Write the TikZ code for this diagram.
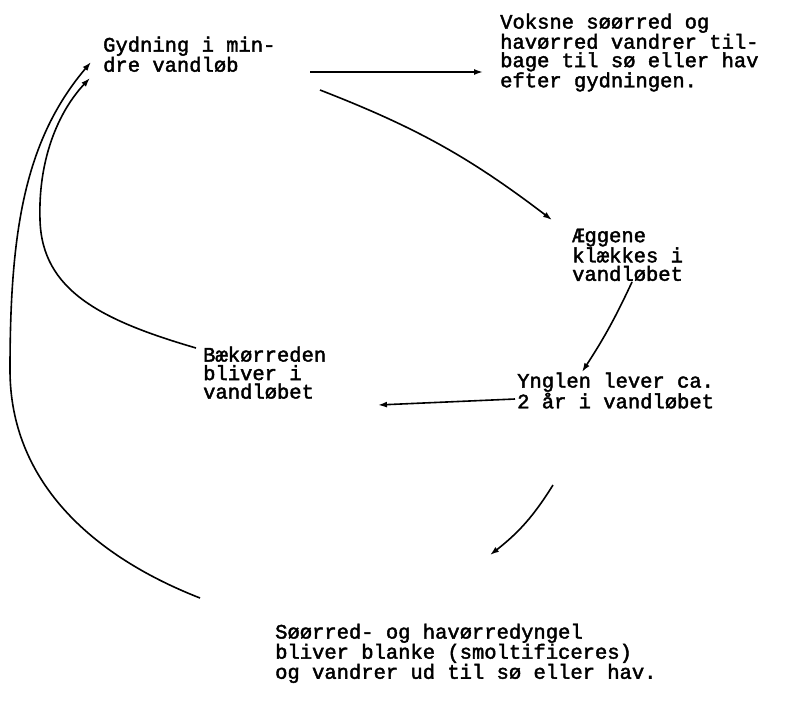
\documentclass[tikz,border=0pt]{standalone}
\usepackage{fontspec}
\usepackage{tikz}
\usetikzlibrary{arrows.meta, positioning}
\newfontfamily\skrivemaskine[FakeBold=2]{Liberation Mono}

\begin{document}
\begin{tikzpicture}[x=1pt, y=1pt,
    tekst/.style={font=\fontsize{20.5}{18.5}\selectfont\skrivemaskine,
                  align=left, inner sep=0pt, anchor=north west},
    pil/.style  ={-{Latex[length=9pt, width=6pt]}, line width=1.6pt, black}
]
\useasboundingbox (0,0) rectangle (789,-717);

% ============================================================
% TEKSTER
% ============================================================

% -- gydning (venstre top) --
\node[tekst] (gyd)   at (103, -36.5) {Gydning i min-\\dre vandløb};

% -- voksne fisk (hoejre top) --
\node[tekst] (voks)  at (500, -13.5) {Voksne søørred og\\havørred vandrer til-\\bage til sø eller hav\\efter gydningen.};

% -- aeg --
\node[tekst] (aeg)   at (572, -228.5) {Æggene\\klækkes i\\vandløbet};

% -- baekoerred (venstre midt) --
\node[tekst] (baek)  at (203, -346.5) {Bækørreden\\bliver i\\vandløbet};

% -- yngel (hoejre midt) --
\node[tekst] (yngl)  at (517, -372.5) {Ynglen lever ca.\\2 år i vandløbet};

% -- smolt (bund) --
\node[tekst] (smolt) at (275, -623.5) {Søørred- og havørredyngel\\bliver blanke (smoltificeres)\\og vandrer ud til sø eller hav.};

% ============================================================
% PILE
% ============================================================

% gydning -> voksne
\draw[pil] ([shift={(207,-35.5)}]gyd.north west) -- ([shift={(-17,-58.5)}]voks.north west);

% gydning -> aeg
\draw[pil] ([shift={(217,-53.5)}]gyd.north west) to[bend left=8] ([shift={(-20,8.5)}]aeg.north west);

% aeg -> yngel
\draw[pil] ([shift={(60,-53.5)}]aeg.north west) to[bend left=4] ([shift={(65,0.5)}]yngl.north west);

% yngel -> baekoerred
\draw[pil] ([shift={(-2,-26.5)}]yngl.north west) -- ([shift={(175,-58.5)}]baek.north west);

% yngel -> smolt
\draw[pil] ([shift={(36,-112.5)}]yngl.north west) to[bend left=10] ([shift={(215,68.5)}]smolt.north west);

% baekoerred -> gydning
\draw[pil] ([shift={(-7,-1.5)}]baek.north west)
    .. controls (100,-320) and (42,-290) .. (40,-220)
    .. controls (38,-160) and (58,-112) .. ([shift={(-13,-41.5)}]gyd.north west);

% smolt -> gydning
\draw[pil] ([shift={(-75,25.5)}]smolt.north west)
    .. controls (90,-555) and (10,-480) .. (10,-370)
    .. controls (10,-230) and (25,-140) .. ([shift={(-12,-25.5)}]gyd.north west);

\end{tikzpicture}
\end{document}
